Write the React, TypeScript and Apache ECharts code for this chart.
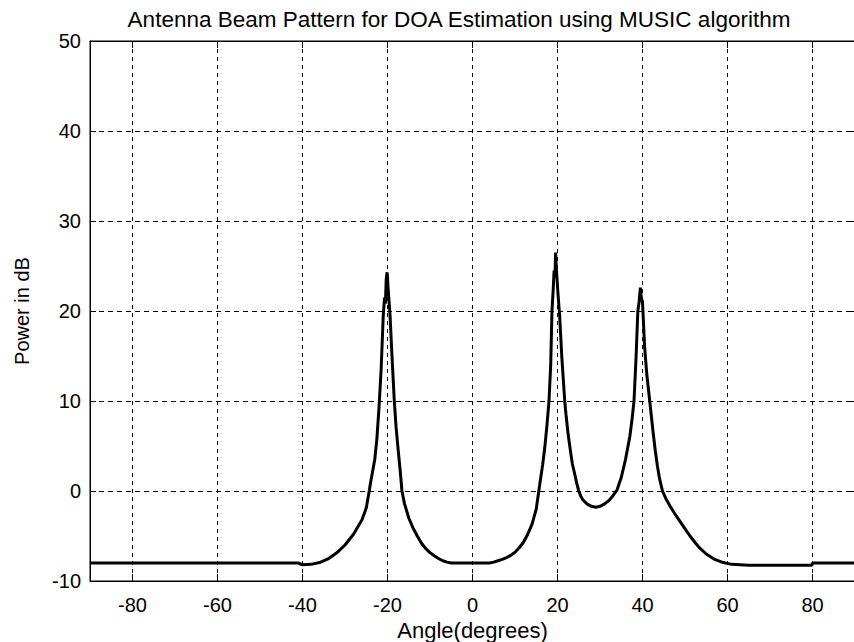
import React, { useEffect, useRef } from "react";
import * as echarts from "echarts";

const angles: number[] = [
  -90, -60, -41, -40, -38, -36, -34, -32, -30, -28, -26, -25, -24.3, -24, -23, -22.5, -22, -21.5, -21, -20.7,
  -20.5, -20.3, -20.1, -20, -19.9, -19.7, -19.4, -19, -18.4, -18, -17.5, -17, -16.6, -16, -15, -14, -13, -12,
  -11, -10, -9, -8, -7, -6, -5, 4, 5, 6, 7, 8, 9, 10, 11, 12, 13, 14, 15, 15.6, 16, 16.5, 17, 17.5, 18, 18.4,
  18.7, 19, 19.2, 19.4, 19.55, 19.7, 19.9, 20.1, 20.5, 21, 21.7, 22, 22.5, 23, 23.5, 24, 24.5, 25, 25.5, 26, 27,
  28, 29, 30, 31, 32, 33, 34, 35, 36, 37, 37.5, 38, 38.5, 38.9, 39.2, 39.5, 39.7, 40, 40.1, 40.5, 41, 41.7,
  42.5, 43, 43.5, 44, 44.7, 45.5, 46.5, 47.5, 48.5, 49.5, 50.5, 51.5, 52.5, 53.5, 55, 57, 59, 61, 65, 79.9,
  80, 90,
];

const powerDb: number[] = [
  -8.0, -8.0, -8.0, -8.2, -8.15, -7.95, -7.55, -6.9, -6.0, -4.8, -3.2, -1.9, 0, 0.9, 3.5, 5.8, 9.3, 13.5, 19.5, 21.5,
  20.8, 23.5, 24.3, 23.8, 22.8, 21.5, 19.5, 15.5, 10, 7.2, 4.6, 2.2, 0, -1.4, -3.0, -4.1, -5.0, -5.8,
  -6.4, -6.85, -7.2, -7.5, -7.75, -7.9, -8.0, -8.0, -7.9, -7.75, -7.6, -7.4, -7.15, -6.8, -6.3, -5.7, -4.8, -3.7, -2.0, 0, 1.3,
  2.9, 4.8, 7.2, 10, 14, 20, 22.5, 24.5, 23.8, 26.5, 25, 23.5, 22, 19.5, 15, 10, 8.5, 6.3, 4.6, 3.0, 2.0, 0.9, 0, -0.6,
  -1.0, -1.45, -1.7, -1.8, -1.7, -1.45, -1.1, -0.55, 0.1, 1.5, 3.5, 6.0, 7.8, 10, 15, 20, 21, 22.6, 21.5, 21, 20, 16,
  13, 10, 6.5, 4.5, 2.8, 1.4, 0, -0.85, -1.7, -2.45, -3.15, -3.85, -4.55, -5.2, -5.8, -6.35, -7.0, -7.6, -7.95, -8.15,
  -8.25, -8.25, -8.0, -8.0,
];

const xTicks: number[] = [-80, -60, -40, -20, 0, 20, 40, 60, 80];

const titleText = "Antenna Beam Pattern for DOA Estimation using MUSIC algorithm";
const xName = "Angle(degrees)";
const yName = "Power in dB";

const FONT = "'Liberation Sans', Arial, Helvetica, sans-serif";

export default function App() {
  const ref = useRef<HTMLDivElement>(null);

  useEffect(() => {
    if (!ref.current) return;
    const chart = echarts.init(ref.current, undefined, { renderer: "svg" });
    const data = angles.map((a, i) => [a, powerDb[i]]);

    const xBase = {
      type: "value" as const,
      min: -90,
      max: 90,
      axisLine: { show: true, onZero: false, lineStyle: { color: "#000", width: 1 } },
      axisTick: { show: true, inside: true, length: 7, customValues: xTicks, lineStyle: { color: "#000", width: 1 } },
    };

    const yBase = {
      type: "value" as const,
      min: -10,
      max: 50,
      interval: 10,
      axisLine: { show: true, onZero: false, lineStyle: { color: "#000", width: 1 } },
      axisTick: { show: true, inside: true, length: 6, lineStyle: { color: "#000", width: 1 } },
    };

    chart.setOption({
      animation: false,
      backgroundColor: "#fff",
      title: {
        text: titleText,
        left: 454,
        textAlign: "center",
        top: 3,
        textStyle: { fontFamily: FONT, fontSize: 22.5, fontWeight: "normal", color: "#000" },
      },
      grid: {
        left: 90,
        top: 41,
        width: 765,
        height: 540,
        show: true,
        borderColor: "#000",
        borderWidth: 1,
        backgroundColor: "#fff",
        containLabel: false,
        outerBoundsMode: "none",
      },
      xAxis: [
        {
          ...xBase,
          position: "bottom",
          name: xName,
          nameLocation: "middle",
          nameGap: 32,
          nameTextStyle: { fontFamily: FONT, fontSize: 22, color: "#000" },
          axisLabel: {
            show: true,
            customValues: xTicks,
            margin: 14,
            fontFamily: FONT,
            fontSize: 20,
            color: "#000",
          },
          splitLine: { show: true, lineStyle: { color: "#000", width: 1, type: [4, 4] } },
        },
        {
          ...xBase,
          position: "top",
          axisLabel: { show: false },
          splitLine: { show: false },
        },
      ],
      yAxis: [
        {
          ...yBase,
          position: "left",
          name: yName,
          nameLocation: "middle",
          nameGap: 58,
          nameTextStyle: { fontFamily: FONT, fontSize: 20, color: "#000" },
          axisLabel: { show: true, margin: 9, fontFamily: FONT, fontSize: 20, color: "#000" },
          splitLine: { show: true, lineStyle: { color: "#000", width: 1, type: [5, 4] } },
        },
        {
          ...yBase,
          position: "right",
          axisLabel: { show: false },
          splitLine: { show: false },
        },
      ],
      series: [
        {
          type: "line",
          data,
          showSymbol: false,
          symbol: "none",
          lineStyle: { color: "#000", width: 3 },
          xAxisIndex: 0,
          yAxisIndex: 0,
        },
      ],
    });

    return () => chart.dispose();
  }, []);

  return (
    <div
      ref={ref}
      style={{ position: "fixed", left: 0, top: 0, width: 854, height: 642, background: "#fff" }}
    />
  );
}
